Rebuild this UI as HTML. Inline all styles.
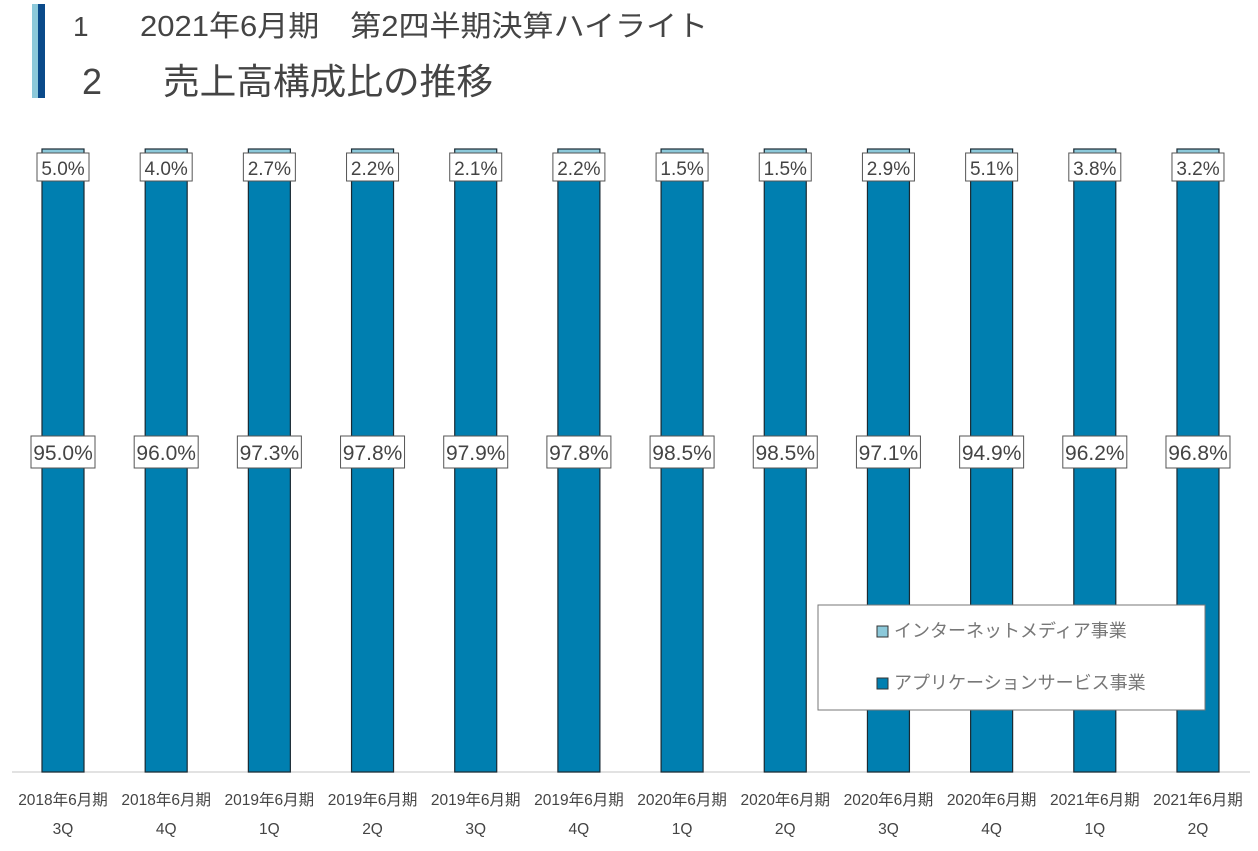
<!DOCTYPE html>
<html><head><meta charset="utf-8">
<style>
body{margin:0;background:#fff;width:1258px;height:846px;overflow:hidden;font-family:"Liberation Sans","Noto Sans CJK JP",sans-serif;}
text{font-family:"Liberation Sans","Noto Sans CJK JP",sans-serif;}
</style></head><body>
<svg id="c" width="1258" height="846">
  <rect x="32" y="4" width="6" height="94" fill="#8cc9da"/>
  <rect x="38" y="4" width="7" height="94" fill="#0a4a8a"/>
  <text x="73" y="36" font-size="28" fill="#444">1</text>
  <text x="140" y="36" font-size="29" fill="#444" textLength="568" lengthAdjust="spacingAndGlyphs">2021年6月期　第2四半期決算ハイライト</text>
  <text x="82" y="94" font-size="36" fill="#444">2</text>
  <text x="163" y="94" font-size="36" fill="#444" textLength="330" lengthAdjust="spacingAndGlyphs">売上高構成比の推移</text>
  <line x1="12" y1="772" x2="1250" y2="772" stroke="#d9d9d9" stroke-width="1.5"/>
  <g id="bars"></g>
  <g>
    <rect x="818" y="605" width="387" height="105" fill="#fff" stroke="#777" stroke-width="1"/>
    <rect x="877" y="626" width="11" height="11" fill="#8cc9da" stroke="#333"/>
    <text x="894" y="637" font-size="18" fill="#777">インターネットメディア事業</text>
    <rect x="877" y="678" width="11" height="11" fill="#007fb0" stroke="#333"/>
    <text x="894" y="689" font-size="18" fill="#777">アプリケーションサービス事業</text>
  </g>
</svg>
<script>
const years=["2018年6月期","2018年6月期","2019年6月期","2019年6月期","2019年6月期","2019年6月期","2020年6月期","2020年6月期","2020年6月期","2020年6月期","2021年6月期","2021年6月期"];
const quarters=["3Q","4Q","1Q","2Q","3Q","4Q","1Q","2Q","3Q","4Q","1Q","2Q"];
const appService=[95.0,96.0,97.3,97.8,97.9,97.8,98.5,98.5,97.1,94.9,96.2,96.8];
const internetMedia=[5.0,4.0,2.7,2.2,2.1,2.2,1.5,1.5,2.9,5.1,3.8,3.2];
const NS="http://www.w3.org/2000/svg";
const g=document.getElementById('bars');
const x0=63,step=103.18,bw=42,yBot=772,yTop=149;
const xs=i=>x0+i*step;
const ys=v=>yBot-(v/100)*(yBot-yTop);
function mk(t,a){const e=document.createElementNS(NS,t);for(const k in a)e.setAttribute(k,a[k]);g.appendChild(e);return e;}
appService.forEach((v,i)=>{
  const cx=xs(i),tot=v+internetMedia[i];
  const b=mk('rect',{x:cx-bw/2,y:ys(v),width:bw,height:yBot-ys(v),fill:'#007fb0',stroke:'#1a2a33','stroke-width':1.2});
  
  
  const t=mk('rect',{x:cx-bw/2,y:ys(tot),width:bw,height:ys(v)-ys(tot),fill:'#8cc9da',stroke:'#1a2a33','stroke-width':1.2});
  
  
  const lb=mk('rect',{x:cx-26,y:153,width:52,height:28,fill:'#fff',stroke:'#555','stroke-width':1});
  
  
  const lt=mk('text',{x:cx,y:175,'font-size':19,fill:'#444','text-anchor':'middle'});
  lt.textContent=internetMedia[i].toFixed(1)+'%';
  
  
  const by=452;
  const bb=mk('rect',{x:cx-32,y:by-16,width:64,height:32,fill:'#fff',stroke:'#555','stroke-width':1});
  
  
  const bt=mk('text',{x:cx,y:by+8,'font-size':21,fill:'#444','text-anchor':'middle'});
  bt.textContent=v.toFixed(1)+'%';
  
  
  const c1=mk('text',{x:cx,y:805,'font-size':15.5,fill:'#444','text-anchor':'middle'});
  c1.textContent=years[i];
  
  
  const c2=mk('text',{x:cx,y:834,'font-size':15.5,fill:'#444','text-anchor':'middle'});
  c2.textContent=quarters[i];
  
  
});
</script>
</body></html>
